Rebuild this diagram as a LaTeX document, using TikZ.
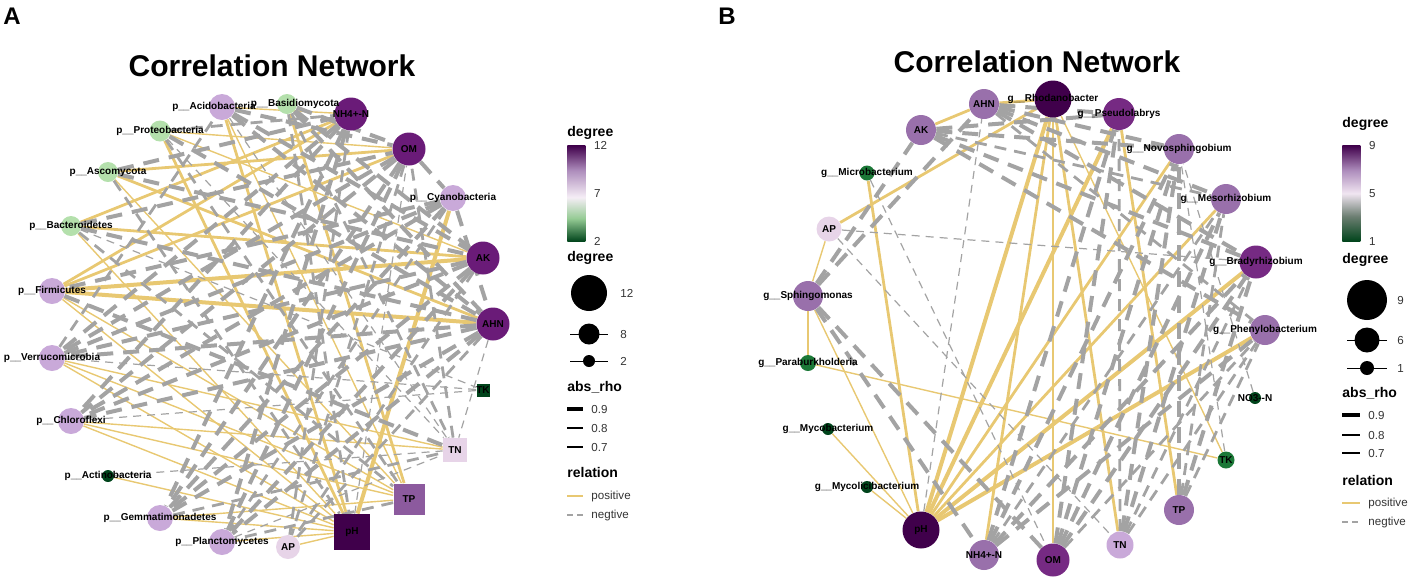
\documentclass[tikz,border=0pt]{standalone}
\usepackage{fontspec}
\setmainfont{Liberation Sans}
\usetikzlibrary{positioning}

\definecolor{pdark}{HTML}{40004B}
\definecolor{pdeep}{HTML}{6A1B78}
\definecolor{pmid}{HTML}{762A83}
\definecolor{pmed}{HTML}{9970AB}
\definecolor{ptp}{HTML}{8C5A9E}
\definecolor{plight}{HTML}{C9A9D9}
\definecolor{pvlight}{HTML}{E7D4E8}
\definecolor{glight}{HTML}{B4E0AC}
\definecolor{gmid}{HTML}{1B7837}
\definecolor{gdark}{HTML}{00441B}
\definecolor{posyel}{HTML}{E8C872}
\definecolor{neggray}{HTML}{A3A3A3}
\definecolor{legtext}{HTML}{333333}

\pgfdeclareverticalshading{prgnA}{100bp}{color(0bp)=(gdark); color(25bp)=(gdark);
  color(37bp)=(glight!80!gmid); color(48bp)=(pvlight!40!white); color(62bp)=(pmed!80!white);
  color(75bp)=(pdark); color(100bp)=(pdark)}
\pgfdeclareverticalshading{prgnB}{100bp}{color(0bp)=(gdark); color(25bp)=(gdark);
  color(38bp)=(gray!80!gmid); color(50bp)=(pvlight!60!white); color(62bp)=(pmed!80!white);
  color(75bp)=(pdark); color(100bp)=(pdark)}

\pgfdeclarelayer{edges}
\pgfsetlayers{edges,main}

\tikzset{
    vtx/.style = {
        shape=circle,
        inner sep=0pt,
        minimum size=#1pt
    },
    sq/.style = {
        shape=rectangle,
        inner sep=0pt,
        minimum size=#1pt
    },
    lbl/.style = {
        font=\fontsize{5}{6}\selectfont\bfseries,
        inner sep=0pt
    },
    ttl/.style = {
        font=\fontsize{15}{18}\selectfont\bfseries
    },
    tag/.style = {
        font=\fontsize{12}{14}\selectfont\bfseries
    },
    legttl/.style = {
        font=\fontsize{7}{8}\selectfont\bfseries,
        anchor=west,
        inner sep=0pt
    },
    legtxt/.style = {
        font=\fontsize{5.8}{7}\selectfont,
        text=legtext,
        anchor=west,
        inner sep=0pt
    },
    cbar/.style = {
        shape=rectangle,
        minimum width=9pt,
        minimum height=48pt,
        inner sep=0pt
    },
    p9/.style = {draw=posyel, line width=2pt},
    p8/.style = {draw=posyel, line width=1.4pt},
    p7/.style = {draw=posyel, line width=0.7pt},
    n9/.style = {draw=neggray, line width=2pt, dash pattern=on 8pt off 5pt},
    n8/.style = {draw=neggray, line width=1.4pt, dash pattern=on 6pt off 4pt},
    n7/.style = {draw=neggray, line width=0.6pt, dash pattern=on 4pt off 3pt},
}

\begin{document}
\begin{tikzpicture}[x=0.5pt, y=-0.5pt]
    \useasboundingbox (0,0) rectangle (1417,585);

    % ---------- panel A ----------
    \node[tag] (tagA) at (12,16) {A};
    \node[ttl] (titleA) at (272,66) {Correlation Network};

    \node[vtx=13, fill=plight] (acid) at (222,107) {};
    \node[vtx=10, fill=glight] (basi) at (287,104) {};
    \node[vtx=16.5, fill=pdeep] (nhfour) at (351,114) {};
    \node[vtx=16.5, fill=pdeep] (om) at (409,149) {};
    \node[vtx=13, fill=plight] (cyano) at (453,198) {};
    \node[vtx=16.5, fill=pdeep] (ak) at (483,258) {};
    \node[vtx=16.5, fill=pdeep] (ahn) at (493,324) {};
    \node[sq=6.5, fill=gdark] (tk) at (483,390) {};
    \node[sq=12, fill=pvlight] (tn) at (455,450) {};
    \node[sq=15.5, fill=ptp] (tp) at (409,499) {};
    \node[sq=18, fill=pdark] (ph) at (352,532) {};
    \node[vtx=12, fill=pvlight] (ap) at (288,547) {};
    \node[vtx=13, fill=plight] (planc) at (222,542) {};
    \node[vtx=13, fill=plight] (gemma) at (160,518) {};
    \node[vtx=6, fill=gdark] (actino) at (108,476) {};
    \node[vtx=13, fill=plight] (chloro) at (71,421) {};
    \node[vtx=13, fill=plight] (verru) at (52,358) {};
    \node[vtx=13, fill=plight] (firmi) at (52,291) {};
    \node[vtx=10, fill=glight] (bact) at (71,226) {};
    \node[vtx=10, fill=glight] (asco) at (108,172) {};
    \node[vtx=10.5, fill=glight] (proteo) at (160,131) {};

    \begin{pgfonlayer}{edges}
    \foreach \a/\b in {firmi/ak, firmi/ahn, ph/cyano}
        \draw[p9] (\a) -- (\b);
    \foreach \a/\b in {firmi/om, firmi/nhfour, asco/om, bact/nhfour, tp/basi, acid/ph,
                       proteo/ph, asco/ahn, bact/ak}
        \draw[p8] (\a) -- (\b);
    \foreach \a/\b in {firmi/ph, firmi/tp, bact/ph, asco/tp, proteo/ak, acid/tp, verru/ph,
                       verru/tp, verru/tn, chloro/ph, chloro/tp, chloro/tn, actino/ph,
                       gemma/ph, planc/ph, gemma/tp, ap/ph, proteo/om, acid/nhfour}
        \draw[p7] (\a) -- (\b);
    \foreach \a/\b in {acid/ahn, acid/ak, basi/om, basi/ak, basi/ahn, proteo/ahn,
                       asco/nhfour, asco/ak, bact/om, bact/ahn, cyano/firmi, cyano/verru,
                       cyano/chloro, cyano/gemma, nhfour/verru, nhfour/chloro, nhfour/gemma,
                       nhfour/planc, om/verru, om/chloro, om/planc, om/gemma, ak/verru,
                       ak/chloro, ak/gemma, ak/planc, ahn/verru, ahn/chloro, ahn/gemma,
                       ahn/planc, firmi/tn, acid/om, om/cyano, cyano/ahn}
        \draw[n9] (\a) -- (\b);
    \foreach \a/\b in {basi/ph, basi/tn, proteo/tp, asco/ph, bact/tp, cyano/planc,
                       nhfour/ap, om/ap, ak/ap, ahn/ap, tn/om, tp/planc, proteo/nhfour,
                       gemma/tn, verru/acid}
        \draw[n8] (\a) -- (\b);
    \foreach \a/\b in {ahn/tn, tk/chloro, tk/verru, acid/tn, bact/tk, proteo/tn,
                       actino/tn, ph/om, planc/tn}
        \draw[n7] (\a) -- (\b);
    \end{pgfonlayer}

    \foreach \n/\t in {nhfour/{NH4+-N},
                       om/OM, cyano/{p\_\_Cyanobacteria}, ak/AK, ahn/AHN, tk/TK, tn/TN,
                       tp/TP, ph/pH, ap/AP, planc/{p\_\_Planctomycetes},
                       gemma/{p\_\_Gemmatimonadetes}, actino/{p\_\_Actinobacteria},
                       chloro/{p\_\_Chloroflexi}, verru/{p\_\_Verrucomicrobia},
                       firmi/{p\_\_Firmicutes}, bact/{p\_\_Bacteroidetes},
                       asco/{p\_\_Ascomycota}, proteo/{p\_\_Proteobacteria}}
        \node[lbl] at (\n) {\t};
    % the two top labels are pushed apart a little
    \node[lbl, xshift=-4pt] at (acid) {p\_\_Acidobacteria};
    \node[lbl, xshift=4pt] at (basi) {p\_\_Basidiomycota};

    % legend A
    \node[legttl] (degA) at (567,133) {degree};
    \node[cbar, shading=prgnA, anchor=north west] (barA) at (567,145) {};
    \node[legtxt, right=4pt of barA.north east] {12};
    \node[legtxt, right=4pt of barA.east] {7};
    \node[legtxt, right=4pt of barA.south east] {2};
    \node[legttl] (sizeA) at (567,258) {degree};
    \node[vtx=18, fill=black] (kA12) at (589,293) {};
    \draw[line width=0.5pt] (570,334) -- (608,334);
    \node[vtx=10.5, fill=black] (kA8) at (589,334) {};
    \draw[line width=0.5pt] (570,361) -- (608,361);
    \node[vtx=6, fill=black] (kA2) at (589,361) {};
    \node[legtxt] at (620,293) {12};
    \node[legtxt] at (620,334) {8};
    \node[legtxt] at (620,361) {2};
    \node[legttl] (rhoA) at (567,387) {abs\_rho};
    \draw[line width=2pt] (567,409) -- (583,409) coordinate (rA9);
    \draw[line width=1.4pt] (567,428) -- (583,428) coordinate (rA8);
    \draw[line width=0.7pt] (567,447) -- (583,447) coordinate (rA7);
    \node[legtxt, right=4pt of rA9] {0.9};
    \node[legtxt, right=4pt of rA8] {0.8};
    \node[legtxt, right=4pt of rA7] {0.7};
    \node[legttl] (relA) at (567,472) {relation};
    \draw[posyel, line width=0.6pt] (567,496) -- (583,496) coordinate (qA1);
    \draw[neggray, line width=0.6pt, dash pattern=on 3pt off 2pt] (567,515) -- (583,515) coordinate (qA2);
    \node[legtxt, right=4pt of qA1] {positive};
    \node[legtxt, right=4pt of qA2] {negtive};

    % ---------- panel B ----------
    \node[tag] (tagB) at (727,16) {B};
    \node[ttl] (titleB) at (1037,62) {Correlation Network};

    \node[vtx=15, fill=pmed] (bahn) at (984,104) {};
    \node[vtx=18.5, fill=pdark] (brhod) at (1053,99) {};
    \node[vtx=16, fill=pmid] (bpseu) at (1119,114) {};
    \node[vtx=15, fill=pmed] (bnovo) at (1179,149) {};
    \node[vtx=15, fill=pmed] (bmeso) at (1226,199) {};
    \node[vtx=16.5, fill=pmid] (bbrady) at (1256,262) {};
    \node[vtx=15, fill=pmed] (bpheny) at (1265,330) {};
    \node[vtx=6, fill=gdark] (bno) at (1255,398) {};
    \node[vtx=8.5, fill=gmid] (btk) at (1226,460) {};
    \node[vtx=15, fill=pmed] (btp) at (1179,510) {};
    \node[vtx=13.5, fill=plight] (btn) at (1120,545) {};
    \node[vtx=16.5, fill=pmid] (bom) at (1053,560) {};
    \node[vtx=15, fill=pmed] (bnh) at (984,555) {};
    \node[vtx=18.5, fill=pdark] (bph) at (921,530) {};
    \node[vtx=6, fill=gdark] (bmycoli) at (867,487) {};
    \node[vtx=6, fill=gdark] (bmyco) at (828,429) {};
    \node[vtx=8, fill=gmid] (bpara) at (808,363) {};
    \node[vtx=15, fill=pmed] (bsphin) at (808,296) {};
    \node[vtx=12.5, fill=pvlight] (bap) at (829,229) {};
    \node[vtx=7.5, fill=gmid] (bmicro) at (867,173) {};
    \node[vtx=15, fill=pmed] (bak) at (921,130) {};

    \begin{pgfonlayer}{edges}
    \foreach \a/\b in {bph/brhod, bph/bpseu, bph/bbrady, bph/bpheny}
        \draw[p9] (\a) -- (\b);
    \foreach \a/\b in {bph/bnovo, bph/bmeso, bap/brhod, bak/bahn, bahn/brhod, brhod/bom,
                       brhod/bnh, bph/bmicro, brhod/btn, bpseu/btp}
        \draw[p8] (\a) -- (\b);
    \foreach \a/\b in {bph/bsphin, bph/bmyco, bph/bmycoli, bsphin/bap, bsphin/bpara,
                       bpara/btk, brhod/btk}
        \draw[p7] (\a) -- (\b);
    \foreach \a/\b in {bsphin/bom, bsphin/bnh, bsphin/bak, bsphin/bahn, bahn/bpseu,
                       bahn/bnovo, bahn/bmeso, bahn/bbrady, bak/bpseu, bak/bnovo,
                       bak/bbrady, bak/bpheny, bom/bpseu, bom/bnovo, bom/bmeso, bom/bbrady,
                       bnh/bpseu, bnh/bnovo, bnh/bbrady, bnh/bpheny, btn/bnovo, btn/bmeso,
                       btp/bnovo, btp/bbrady}
        \draw[n9] (\a) -- (\b);
    \foreach \a/\b in {bahn/bpheny, bak/bmeso, bom/bpheny, bnh/bmeso, btn/bpseu,
                       btn/bbrady, btn/bpheny, btp/bmeso, btp/bpheny}
        \draw[n8] (\a) -- (\b);
    \foreach \a/\b in {bap/bbrady, bmicro/bom, bno/bnovo, btk/bnovo, bph/bahn, bap/btn}
        \draw[n7] (\a) -- (\b);
    \end{pgfonlayer}

    \foreach \n/\t in {bahn/AHN, brhod/{g\_\_Rhodanobacter}, bpseu/{g\_\_Pseudolabrys},
                       bnovo/{g\_\_Novosphingobium}, bmeso/{g\_\_Mesorhizobium},
                       bbrady/{g\_\_Bradyrhizobium}, bpheny/{g\_\_Phenylobacterium},
                       bno/{NO3-{}-N}, btk/TK, btp/TP, btn/TN, bom/OM, bnh/{NH4+-N},
                       bph/pH, bmycoli/{g\_\_Mycolicibacterium}, bmyco/{g\_\_Mycobacterium},
                       bpara/{g\_\_Paraburkholderia}, bsphin/{g\_\_Sphingomonas}, bap/AP,
                       bmicro/{g\_\_Microbacterium}, bak/AK}
        \node[lbl] at (\n) {\t};

    % legend B
    \node[legttl] (degB) at (1342,124) {degree};
    \node[cbar, shading=prgnB, anchor=north west] (barB) at (1342,145) {};
    \node[legtxt, right=4pt of barB.north east] {9};
    \node[legtxt, right=4pt of barB.east] {5};
    \node[legtxt, right=4pt of barB.south east] {1};
    \node[legttl] (sizeB) at (1342,260) {degree};
    \node[vtx=20, fill=black] (kB9) at (1367,300) {};
    \draw[line width=0.5pt] (1347,340) -- (1387,340);
    \node[vtx=12.5, fill=black] (kB6) at (1367,340) {};
    \draw[line width=0.5pt] (1347,368) -- (1387,368);
    \node[vtx=7, fill=black] (kB1) at (1367,368) {};
    \node[legtxt] at (1397,300) {9};
    \node[legtxt] at (1397,340) {6};
    \node[legtxt] at (1397,368) {1};
    \node[legttl] (rhoB) at (1342,393) {abs\_rho};
    \draw[line width=2pt] (1342,415) -- (1360,415) coordinate (rB9);
    \draw[line width=1.4pt] (1342,435) -- (1360,435) coordinate (rB8);
    \draw[line width=0.7pt] (1342,453) -- (1360,453) coordinate (rB7);
    \node[legtxt, right=4pt of rB9] {0.9};
    \node[legtxt, right=4pt of rB8] {0.8};
    \node[legtxt, right=4pt of rB7] {0.7};
    \node[legttl] (relB) at (1342,480) {relation};
    \draw[posyel, line width=0.6pt] (1342,503) -- (1360,503) coordinate (qB1);
    \draw[neggray, line width=0.6pt, dash pattern=on 3pt off 2pt] (1342,522) -- (1360,522) coordinate (qB2);
    \node[legtxt, right=4pt of qB1] {positive};
    \node[legtxt, right=4pt of qB2] {negtive};
\end{tikzpicture}
\end{document}
